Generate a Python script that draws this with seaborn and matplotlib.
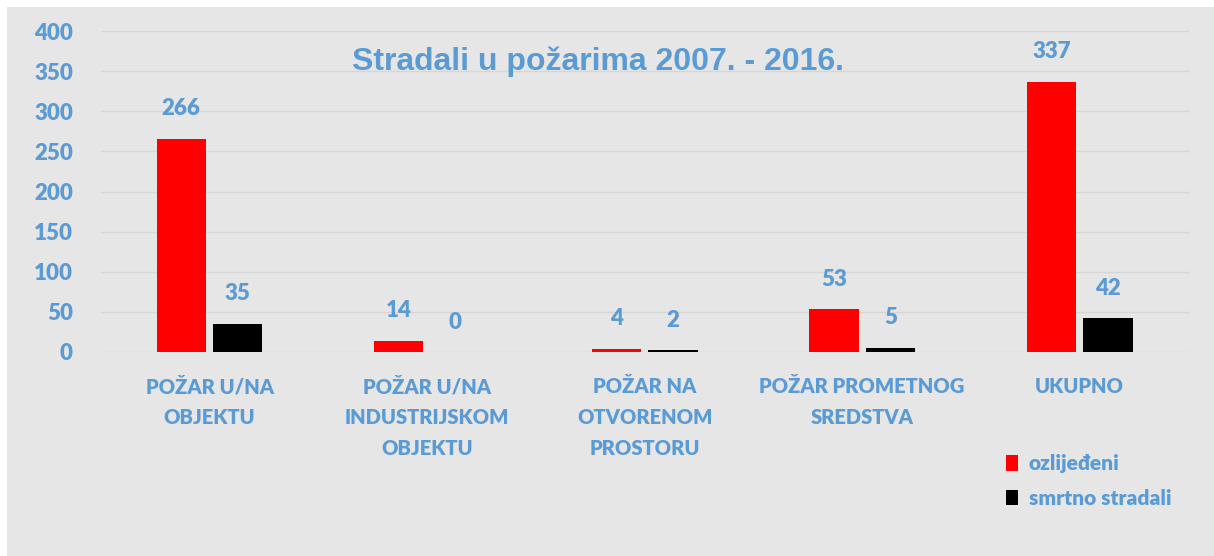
import pandas as pd
import matplotlib.pyplot as plt
import seaborn as sns
from matplotlib.patches import Rectangle, Patch

# Podaci
kategorije = ['POŽAR U/NA\nOBJEKTU', 'POŽAR U/NA\nINDUSTRIJSKOM\nOBJEKTU',
              'POŽAR NA\nOTVORENOM\nPROSTORU', 'POŽAR PROMETNOG\nSREDSTVA', 'UKUPNO']
ozlijedeni = [266, 14, 4, 53, 337]
smrtno_stradali = [35, 0, 2, 5, 42]
serije = ['ozlijeđeni', 'smrtno stradali']
boje = ['#ff0000', '#000000']

plava = '#5b9bd5'
pozadina = '#e6e6e6'

df = pd.DataFrame({
    'kategorija': kategorije * 2,
    'broj': ozlijedeni + smrtno_stradali,
    'vrsta': [serije[0]] * len(kategorije) + [serije[1]] * len(kategorije),
})

sns.set_style('white')
plt.rcParams['font.family'] = ['Lato', 'DejaVu Sans']

fig = plt.figure(figsize=(12.14, 5.56), dpi=100, facecolor='white')
fig.patches.append(Rectangle((7 / 1214, 0), 1, 1 - 7 / 556, transform=fig.transFigure,
                             facecolor=pozadina, edgecolor='none', zorder=-10))
ax = fig.add_axes([0.083, 0.367, 0.896, 0.577])
ax.set_facecolor(pozadina)

sns.barplot(data=df, x='kategorija', y='broj', hue='vrsta', palette=boje,
            saturation=1, width=0.52, gap=0.13, ax=ax, legend=False,
            edgecolor='none', linewidth=0)

for c in ax.containers:
    ax.bar_label(c, padding=14, color=plava, fontsize=16, fontweight='heavy')

ax.set_ylim(0, 400)
ax.set_yticks(range(0, 401, 50))
ax.yaxis.grid(True, color='#d6d6d6', linewidth=1)
ax.set_axisbelow(True)
for s in ax.spines.values():
    s.set_visible(False)

ax.set_xlabel('')
ax.set_ylabel('')
ax.tick_params(axis='y', length=0, pad=20, labelsize=16, labelcolor=plava)
ax.tick_params(axis='x', length=0, pad=18, labelsize=14.5, labelcolor=plava)
for lbl in ax.get_yticklabels() + ax.get_xticklabels():
    lbl.set_fontweight('heavy')
for lbl in ax.get_xticklabels():
    lbl.set_linespacing(1.75)
    lbl.set_verticalalignment('top')

# granice kategorija
ax.set_xticks([i + 0.5 for i in range(len(kategorije) - 1)], minor=True)
ax.tick_params(axis='x', which='minor', length=6, color='#d0d0d0', width=1)

ax.text(0.457, 0.905, 'Stradali u požarima 2007. - 2016.', transform=ax.transAxes,
        ha='center', va='center', fontsize=23, fontweight='bold', color=plava,
        family=['Liberation Sans', 'DejaVu Sans'])

ruke = [Patch(facecolor=b, edgecolor='none') for b in boje]
fig.legend(ruke, serije, loc='upper left', bbox_to_anchor=(0.813, 0.217),
           frameon=False, labelcolor=plava, prop={'size': 15, 'weight': 'heavy'},
           handlelength=0.6, handleheight=0.8, handletextpad=0.5, labelspacing=0.75)

plt.savefig('out.png', dpi=100, facecolor=fig.get_facecolor())
